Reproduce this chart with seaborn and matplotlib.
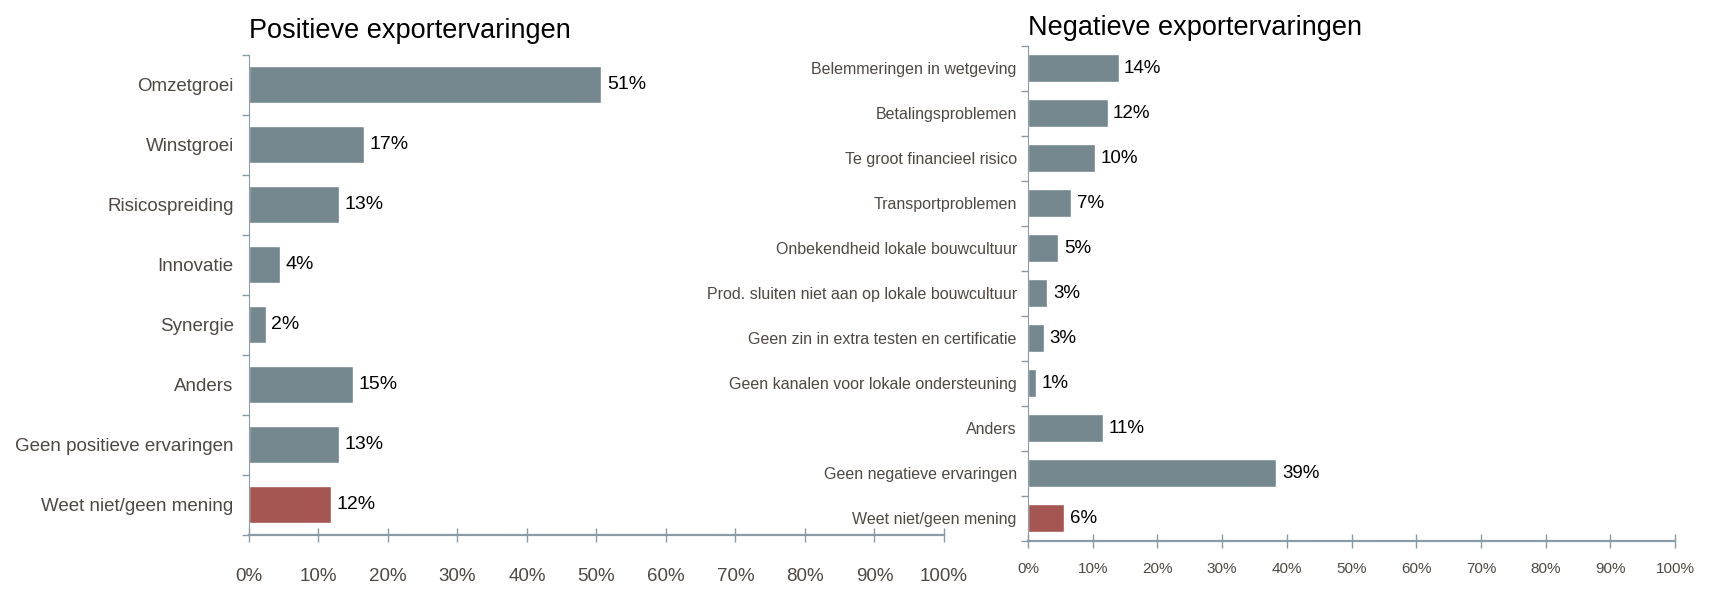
import numpy as np
import seaborn as sns
import matplotlib.pyplot as plt

# positive export experiences (share of respondents, %)
pos_cats = ['Omzetgroei', 'Winstgroei', 'Risicospreiding', 'Innovatie',
            'Synergie', 'Anders', 'Geen positieve ervaringen',
            'Weet niet/geen mening']
pos_vals = [50.7, 16.6, 13.0, 4.4, 2.4, 14.9, 13.0, 11.8]
pos_labels = ['51%', '17%', '13%', '4%', '2%', '15%', '13%', '12%']

# negative export experiences
neg_cats = ['Belemmeringen in wetgeving', 'Betalingsproblemen',
            'Te groot financieel risico', 'Transportproblemen',
            'Onbekendheid lokale bouwcultuur',
            'Prod. sluiten niet aan op lokale bouwcultuur',
            'Geen zin in extra testen en certificatie',
            'Geen kanalen voor lokale ondersteuning', 'Anders',
            'Geen negatieve ervaringen', 'Weet niet/geen mening']
neg_vals = [14.0, 12.3, 10.3, 6.7, 4.7, 3.0, 2.5, 1.3, 11.6, 38.4, 5.6]
neg_labels = ['14%', '12%', '10%', '7%', '5%', '3%', '3%', '1%', '11%',
              '39%', '6%']

x_ticks = list(range(0, 101, 10))

GREY = '#74878e'
RED = '#a55552'
AXIS = '#8a9ba5'
TXT = '#4f4842'

sns.set_style('white')
plt.rcParams['font.family'] = ['Liberation Sans', 'DejaVu Sans']


def draw_panel(ax, cats, vals, labels, title, ysize, xsize, vsize, ypad, xpad,
               tpad):
    colors = [GREY] * (len(cats) - 1) + [RED]
    sns.barplot(x=vals, y=cats, hue=cats, palette=colors, legend=False,
                width=0.62, saturation=1, ax=ax)
    n = len(cats)
    ax.set_xlim(0, 100)
    ax.set_ylim(n - 0.5, -0.5)
    ax.set_xticks(x_ticks)
    ax.set_xticklabels([f'{t}%' for t in x_ticks])
    ax.set_yticks(np.arange(-0.5, n), minor=True)
    ax.tick_params(axis='y', which='major', left=True, length=0,
                   labelsize=ysize, labelcolor=TXT, pad=ypad)
    ax.tick_params(axis='y', which='minor', left=True, length=5, color=AXIS,
                   direction='out', width=1)
    ax.tick_params(axis='x', bottom=True, length=10, direction='inout',
                   color=AXIS, width=1, labelsize=xsize, labelcolor=TXT,
                   pad=xpad)
    for side in ['top', 'right']:
        ax.spines[side].set_visible(False)
    ax.spines['left'].set_color(AXIS)
    ax.spines['bottom'].set_color(AXIS)
    ax.spines['bottom'].set_linewidth(1.6)
    # hue gives one container per bar
    for c, lab in zip(ax.containers, labels):
        ax.bar_label(c, labels=[lab], padding=4, fontsize=vsize,
                     color='black')
    ax.set_xlabel('')
    ax.set_ylabel('')
    ax.set_title(title, loc='left', fontsize=19.5, color='black', pad=tpad)


fig = plt.figure(figsize=(17.11, 5.89), dpi=100)
ax1 = fig.add_axes([0.1455, 0.092, 0.4062, 0.815])
ax2 = fig.add_axes([0.6008, 0.082, 0.3782, 0.84])

draw_panel(ax1, pos_cats, pos_vals, pos_labels, 'Positieve exportervaringen',
           13.5, 13.5, 14, 11, 19, 12)
draw_panel(ax2, neg_cats, neg_vals, neg_labels, 'Negatieve exportervaringen',
           11.5, 11, 13.5, 8, 10, 8)

plt.savefig('out.png', dpi=100)
